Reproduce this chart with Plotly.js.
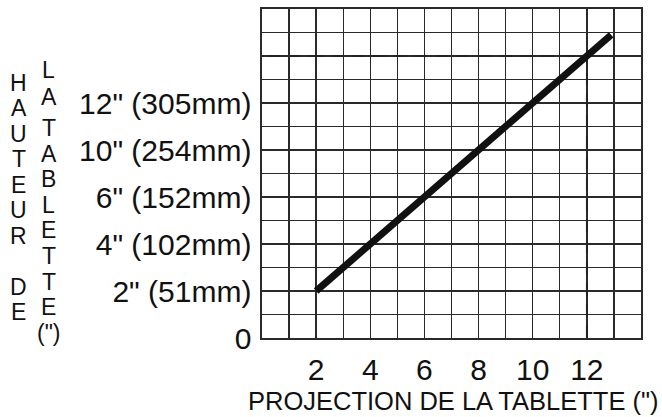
<!DOCTYPE html>
<html>
<head>
<meta charset="utf-8">
<script src="https://cdn.plot.ly/plotly-3.0.1.min.js"></script>
<style>html,body{margin:0;padding:0;background:#fff;}#chart{width:662px;height:417px;}</style>
</head>
<body>
<div id="chart"></div>
<script>
// Data
const lineX = [2, 12.9];
const lineY = [2, 12.9];
const guideX = [0.2, 12, 12];
const guideY = [12, 12, 0];
const xTickVals = [2, 4, 6, 8, 10, 12];
const xTickText = ['2', '4', '6', '8', '10', '12'];
const yTickVals = [0, 2, 4, 6, 8, 10];
const yTickText = ['0', '2" (51mm)', '4" (102mm)', '6" (152mm)', '10" (254mm)', '12" (305mm)'];
const yTitleCol1 = ['H', 'A', 'U', 'T', 'E', 'U', 'R', '', 'D', 'E'];
const yTitleCol2a = ['L', 'A'];
const yTitleCol2b = ['T', 'A', 'B', 'L', 'E', 'T', 'T', 'E', '(")'];
const xTitle = 'PROJECTION DE LA TABLETTE (")';

const W = 662, H = 417;
const M = {l: 262, r: 21, t: 9, b: 79};
const pw = W - M.l - M.r, ph = H - M.t - M.b;
const px2paper = px => (px - M.l) / pw;
const py2paper = py => (H - M.b - py) / ph;
const FONT = 'Liberation Sans, Arial, sans-serif';
const GRID = '#2a2a2a';

const annotations = [];
function column(letters, xc, y0, step) {
  letters.forEach((t, i) => {
    if (!t) return;
    annotations.push({
      text: t, xref: 'paper', yref: 'paper',
      x: px2paper(xc), y: py2paper(y0 + i * step),
      xanchor: 'center', yanchor: 'middle', showarrow: false,
      borderpad: 0,
      font: {family: FONT, size: 23, color: '#111'}
    });
  });
}
column(yTitleCol1, 18.5, 83, 25.45);
column(yTitleCol2a, 49, 70, 26.7);
column(yTitleCol2b, 49, 128, 25.6);

annotations.push({
  text: xTitle, xref: 'paper', yref: 'paper',
  x: px2paper(453.5), y: py2paper(401),
  xanchor: 'center', yanchor: 'middle', showarrow: false, borderpad: 0,
  font: {family: FONT, size: 25.5, color: '#111'}
});

const traces = [
  {x: guideX, y: guideY, mode: 'lines', line: {color: '#222', width: 1.8, dash: '13px,8px'}, hoverinfo: 'skip'},
  {x: lineX, y: lineY, mode: 'lines', line: {color: '#111', width: 7}, hoverinfo: 'skip'}
];

const axisCommon = {
  automargin: false,
  showgrid: true, gridcolor: GRID, gridwidth: 1.4,
  showline: true, linecolor: GRID, linewidth: 1.6, mirror: true,
  zeroline: false, ticks: '', fixedrange: true,
  minor: {dtick: 1, tick0: 0, showgrid: true, gridcolor: GRID, gridwidth: 1.4, ticks: ''},
  tickfont: {family: FONT, size: 30, color: '#111'}
};

const layout = {
  width: W, height: H,
  margin: M,
  paper_bgcolor: '#fff', plot_bgcolor: '#fff',
  showlegend: false,
  xaxis: Object.assign({}, axisCommon, {
    range: [0, 14], tickmode: 'array', tickvals: xTickVals, ticktext: xTickText,
    ticklabelstandoff: 4
  }),
  yaxis: Object.assign({}, axisCommon, {
    range: [0, 14], tickmode: 'array', tickvals: yTickVals, ticktext: yTickText,
    ticklabelstandoff: 3
  }),
  annotations: annotations
};

Plotly.newPlot('chart', traces, layout, {staticPlot: true, displayModeBar: false});
</script>
</body>
</html>
